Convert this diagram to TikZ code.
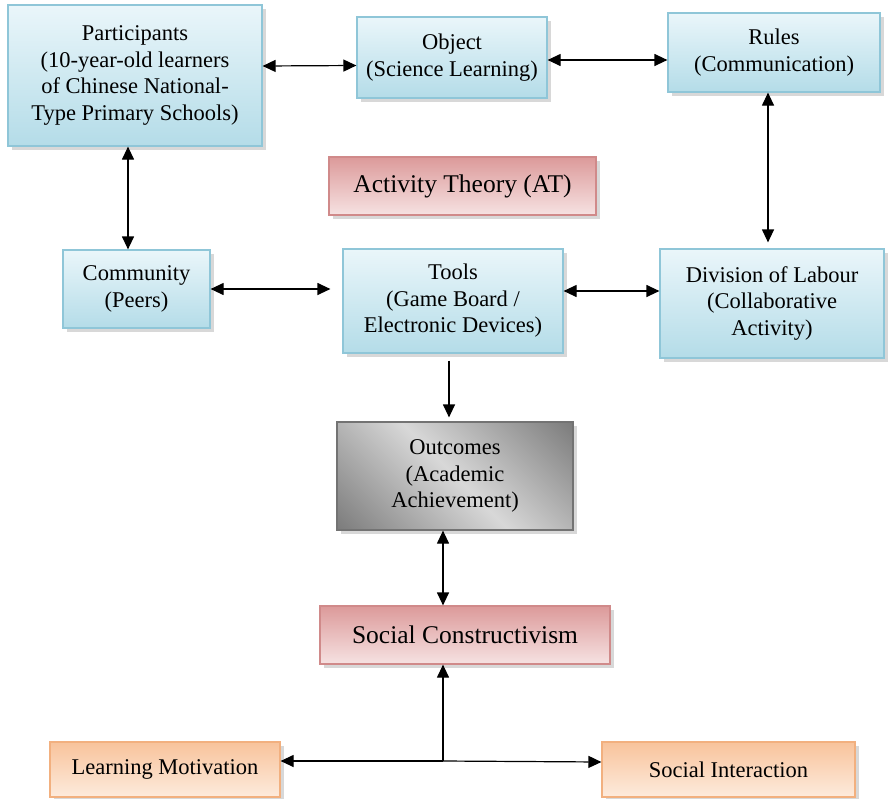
\documentclass[tikz,border=0pt]{standalone}
\usepackage{fontspec}
\setmainfont{Liberation Serif}
\usetikzlibrary{shadows,arrows.meta}
\definecolor{bluetop}{HTML}{EAF6FA}
\definecolor{bluebot}{HTML}{B4DCE8}
\definecolor{blueline}{HTML}{8FC6D8}
\definecolor{redtop}{HTML}{DC9A9A}
\definecolor{redbot}{HTML}{F6E2E2}
\definecolor{redline}{HTML}{D08A8A}
\definecolor{ortop}{HTML}{F8C39B}
\definecolor{orbot}{HTML}{FDEBDD}
\definecolor{orline}{HTML}{F2B07F}
\definecolor{gdark}{HTML}{555555}
\definecolor{glight}{HTML}{D8D8D8}
\pgfdeclarehorizontalshading{outshade}{100bp}{color(0bp)=(gdark); color(50bp)=(glight); color(100bp)=(gdark)}
\tikzset{
  boxbase/.style={rectangle, align=center, inner sep=2pt, line width=1.2pt,
    drop shadow={shadow xshift=4pt, shadow yshift=-4pt, fill=black!30}},
  bluebox/.style={boxbase, draw=blueline, top color=bluetop, bottom color=bluebot,
    font=\fontsize{22.5}{26.5}\selectfont},
  redbox/.style={boxbase, draw=redline, top color=redtop, bottom color=redbot,
    font=\fontsize{25.5}{30}\selectfont},
  orbox/.style={boxbase, draw=orline, top color=ortop, bottom color=orbot,
    font=\fontsize{22.5}{26.5}\selectfont},
  graybox/.style={boxbase, draw=black!55, shading=outshade, shading angle=45,
    font=\fontsize{22.5}{26.5}\selectfont},
  dbl/.style={{Triangle[length=13pt,width=12pt]}-{Triangle[length=13pt,width=12pt]}, line width=1.2pt},
  sgl/.style={-{Triangle[length=13pt,width=12pt]}, line width=1.2pt}
}
\begin{document}
\begin{tikzpicture}[x=1pt,y=-1pt]
\useasboundingbox (0,0) rectangle (888,798);
\node[bluebox, minimum width=254pt, minimum height=141pt] (part) at (135,75.5)
  {Participants\\(10-year-old learners\\of Chinese National-\\Type Primary Schools)};
\node[bluebox, minimum width=190pt, minimum height=81pt] (obj) at (452,57.5)
  {Object\\(Science Learning)};
\node[bluebox, minimum width=212pt, minimum height=79pt] (rules) at (774,52.5)
  {Rules\\(Communication)};
\node[redbox, minimum width=267pt, minimum height=58pt] (at) at (462.5,186)
  {Activity Theory (AT)};
\node[bluebox, minimum width=147pt, minimum height=78pt] (comm) at (136.5,289)
  {Community\\(Peers)};
\node[bluebox, minimum width=220pt, minimum height=104pt] (tools) at (453,301)
  {Tools\\(Game Board /\\Electronic Devices)};
\node[bluebox, minimum width=224pt, minimum height=109pt] (div) at (772,303.5)
  {Division of Labour\\(Collaborative\\Activity)};
\node[graybox, minimum width=236pt, minimum height=108pt] (out) at (455,476)
  {Outcomes\\(Academic\\Achievement)};
\node[redbox, minimum width=290pt, minimum height=58pt] (sc) at (465,635)
  {Social Constructivism};
\node[orbox, minimum width=230pt, minimum height=55pt] (lm) at (165,769.5)
  {Learning Motivation};
\node[orbox, minimum width=253pt, minimum height=55pt] (si) at (728.5,769.5)
  {Social Interaction};
\coordinate (j) at (443,761);

\draw[dbl] ([yshift=9.5pt]part.east) -- ([yshift=-8pt]obj.west);
\draw[dbl] ([yshift=-2.5pt]obj.east) -- ([yshift=-7.5pt]rules.west);
\draw[dbl] ([xshift=-7pt]part.south) -- ([xshift=-8.5pt]comm.north);
\draw[dbl, shorten >=6pt] ([xshift=-6pt]rules.south) -- ([xshift=-4pt]div.north);
\draw[dbl, shorten >=12pt] (comm.east) -- ([yshift=12pt]tools.west);
\draw[dbl] ([yshift=10pt]tools.east) -- ([yshift=12.5pt]div.west);
\draw[sgl, shorten <=7pt, shorten >=4pt] ([xshift=-4pt]tools.south) -- ([xshift=-6pt]out.north);
\draw[dbl] ([xshift=-12pt]out.south) -- ([xshift=-22pt]sc.north);
\draw[sgl] (j) -- ([xshift=-22pt]sc.south);
\draw[sgl] (j) -- ([yshift=8.5pt]lm.east);
\draw[sgl] (j) -- ([yshift=7.5pt]si.west);
\end{tikzpicture}
\end{document}
